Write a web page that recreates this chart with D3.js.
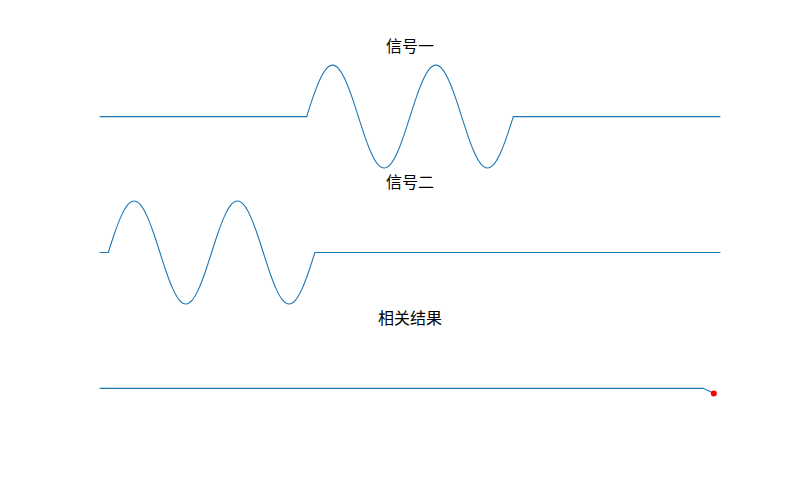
<!DOCTYPE html>
<html>
<head>
<meta charset="utf-8">
<script src="https://cdn.jsdelivr.net/npm/d3@7"></script>
<style>
  html, body { margin: 0; padding: 0; background: #fff; }
  svg { display: block; }
</style>
</head>
<body>
<svg id="chart" width="800" height="500"></svg>
<script>
// ---- data (sample index domain 0..300) ----
const titles = ["信号一", "信号二", "相关结果"];

// one burst of the wave, read at 16 samples per period, two periods
const burstValues = [0, 0.383, 0.707, 0.924, 1, 0.924, 0.707, 0.383,
                     0, -0.383, -0.707, -0.924, -1, -0.924, -0.707, -0.383,
                     0, 0.383, 0.707, 0.924, 1, 0.924, 0.707, 0.383,
                     0, -0.383, -0.707, -0.924, -1, -0.924, -0.707, -0.383, 0];
const burstStep = 3.125;

// signal one: zero, burst from 100 to 200, zero
const signal1Start = 100;
const signal1FlatBefore = [[0, 0], [100, 0]];
const signal1FlatAfter = [[200, 0], [300, 0]];

// signal two: zero, burst from 4 to 104, zero
const signal2Start = 4;
const signal2FlatBefore = [[0, 0], [4, 0]];
const signal2FlatAfter = [[104, 0], [300, 0]];

// correlation result
const corrX = [0, 292, 294.5, 297];
const corrY = [0, 0, -0.045, -0.1];
const corrPeak = [297, -0.1];

// ---- layout ----
const svg = d3.select("#chart");
const left = 100, right = 720;
const axTops = [60, 195.9, 331.8];
const axH = 113.2;
const color = "#1f77b4";

const x = d3.scaleLinear().domain([0, 300]).range([left, right]);
const yScales = axTops.map(t => d3.scaleLinear().domain([-1.1, 1.1]).range([t + axH, t]));

function burst(start) {
  return burstValues.map((v, i) => [start + i * burstStep, v]);
}

function drawPieces(g, y, pieces) {
  const lin = d3.line().x(d => x(d[0])).y(d => y(d[1]));
  const smooth = d3.line().x(d => x(d[0])).y(d => y(d[1])).curve(d3.curveNatural);
  pieces.forEach(p => {
    g.append("path")
      .attr("d", (p.smooth ? smooth : lin)(p.data))
      .attr("fill", "none")
      .attr("stroke", color)
      .attr("stroke-width", 1.1)
      .attr("stroke-linecap", "round")
      .attr("stroke-linejoin", "round");
  });
}

// titles
titles.forEach((t, i) => {
  svg.append("text")
    .attr("x", (left + right) / 2)
    .attr("y", axTops[i] - 8)
    .attr("text-anchor", "middle")
    .attr("font-family", "'Noto Sans CJK SC', 'Noto Sans', sans-serif")
    .attr("font-size", 16)
    .attr("fill", "#000")
    .text(t);
});

// signal one
drawPieces(svg.append("g"), yScales[0], [
  { data: signal1FlatBefore },
  { data: burst(signal1Start), smooth: true },
  { data: signal1FlatAfter }
]);

// signal two
drawPieces(svg.append("g"), yScales[1], [
  { data: signal2FlatBefore },
  { data: burst(signal2Start), smooth: true },
  { data: signal2FlatAfter }
]);

// correlation
const g3 = svg.append("g");
drawPieces(g3, yScales[2], [{ data: corrX.map((v, i) => [v, corrY[i]]) }]);
g3.append("circle")
  .attr("cx", x(corrPeak[0]))
  .attr("cy", yScales[2](corrPeak[1]))
  .attr("r", 3)
  .attr("fill", "red");
</script>
</body>
</html>
